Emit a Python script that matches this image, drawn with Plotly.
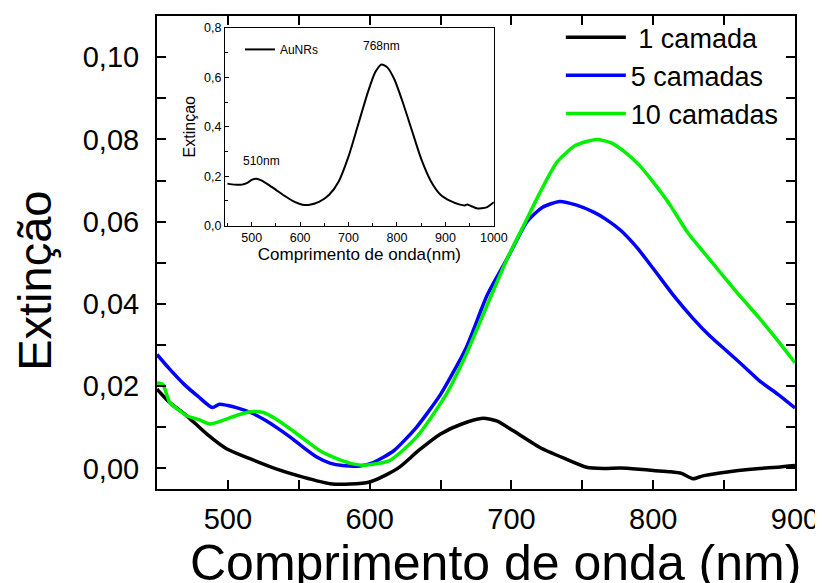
import plotly.graph_objects as go

# 1 camada
x_1 = [450, 459, 471, 485, 499, 516, 534, 553, 572, 586, 600, 612, 621, 635, 650, 665, 680, 690, 701, 720,
       737, 753, 765, 777, 790, 800, 812, 820, 828, 835, 847, 860, 875, 888, 900]
y_1 = [0.0193, 0.016, 0.0128, 0.0084, 0.0048, 0.0023, -0.0001, -0.0021, -0.0037, -0.0038, -0.0033, -0.0015,
       0.0003, 0.0045, 0.0084, 0.0108, 0.0122, 0.0115, 0.0092, 0.0051, 0.0025, 0.0003, 0.0, 0.0001, -0.0002,
       -0.0005, -0.0008, -0.0012, -0.0025, -0.0018, -0.0011, -0.0005, 0.0, 0.0003, 0.0007]

# 5 camadas
x_5 = [450, 458, 469, 479, 489, 494, 500, 506, 516, 527, 535, 544, 553, 563, 572, 581, 593, 603, 617, 633,
       650, 668, 683, 697, 711, 722, 734, 746, 758, 767, 777, 789, 800, 814, 828, 840, 852, 864, 875, 888, 900]
y_5 = [0.0277, 0.0245, 0.0205, 0.0175, 0.0148, 0.0156, 0.0153, 0.0148, 0.0136, 0.0116, 0.0098, 0.0076,
       0.0052, 0.0027, 0.0013, 0.0007, 0.0006, 0.0015, 0.0043, 0.010, 0.018, 0.0293, 0.0422, 0.051, 0.060,
       0.0635, 0.0649, 0.0640, 0.0623, 0.0605, 0.0579, 0.0535, 0.0486, 0.0422, 0.0365, 0.0322, 0.0285,
       0.0248, 0.0213, 0.0180, 0.0147]

# 10 camadas
x_10 = [450, 454, 459, 465, 471, 480, 487, 493, 499, 507, 516, 525, 535, 544, 555, 565, 576, 586, 596, 614,
        633, 654, 668, 683, 697, 710, 720, 732, 745, 760, 770, 779, 790, 800, 812, 824, 835, 847, 861, 875,
        888, 900]
y_10 = [0.0208, 0.0205, 0.016, 0.0143, 0.0128, 0.0118, 0.0108, 0.0113, 0.012, 0.013, 0.0138, 0.0136, 0.0118,
        0.0096, 0.0068, 0.0043, 0.0025, 0.0013, 0.0008, 0.0019, 0.0076, 0.018, 0.0277, 0.0398, 0.051, 0.060,
        0.067, 0.0744, 0.0785, 0.080, 0.0792, 0.0772, 0.0738, 0.0696, 0.064, 0.0575, 0.0528, 0.0478, 0.042,
        0.0365, 0.031, 0.0257]

# inset: AuNRs
x_au = [450, 465, 480, 490, 500, 510, 520, 535, 550, 570, 590, 605, 620, 640, 660, 680, 700, 720, 740, 755,
        768, 780, 795, 810, 830, 850, 870, 890, 910, 930, 940, 945, 952, 965, 975, 985, 1000]
y_au = [0.17, 0.166, 0.166, 0.172, 0.185, 0.19, 0.183, 0.165, 0.145, 0.118, 0.095, 0.085, 0.085, 0.097,
        0.125, 0.18, 0.28, 0.41, 0.54, 0.62, 0.652, 0.64, 0.59, 0.51, 0.39, 0.27, 0.18, 0.125, 0.1, 0.085,
        0.082, 0.086, 0.08, 0.07, 0.07, 0.074, 0.095]

FONT = 'Arial, "Liberation Sans", sans-serif'

fig = go.Figure()

fig.add_trace(go.Scatter(x=x_1, y=y_1, mode='lines', name=' 1 camada',
                         line=dict(color='black', width=3.5, shape='spline', smoothing=0.6)))
fig.add_trace(go.Scatter(x=x_5, y=y_5, mode='lines', name='5 camadas',
                         line=dict(color='#0000ff', width=3.5, shape='spline', smoothing=0.6)))
fig.add_trace(go.Scatter(x=x_10, y=y_10, mode='lines', name='10 camadas',
                         line=dict(color='#00f000', width=3.5, shape='spline', smoothing=0.6)))

fig.add_trace(go.Scatter(x=x_au, y=y_au, mode='lines', name='AuNRs', xaxis='x2', yaxis='y2',
                         legend='legend2', line=dict(color='black', width=2, shape='spline', smoothing=0.6)))

axis_common = dict(showline=True, linecolor='black', linewidth=2, mirror='allticks', ticks='inside',
                   ticklen=9, tickwidth=1.5, tickcolor='black', showgrid=False, zeroline=False,
                   automargin=False)
inset_common = dict(showline=True, linecolor='black', linewidth=1, mirror=True, ticks='inside',
                    ticklen=4, tickcolor='black', showgrid=False, zeroline=False, automargin=False)

# page body keeps its 8px default margin, so the figure is 8px smaller than the window
fig.update_layout(
    width=815, height=575,
    margin=dict(l=149, r=28, t=5, b=94),
    paper_bgcolor='white', plot_bgcolor='white',
    separators=',.',
    font=dict(family=FONT, color='black'),
    xaxis=dict(range=[450, 900], tickvals=[500, 600, 700, 800, 900], tickfont=dict(size=29),
               minor=dict(dtick=50, ticks='inside', ticklen=9, tickcolor='black'),
               ticklabelstandoff=3, **axis_common),
    yaxis=dict(range=[-0.005, 0.11], tickvals=[0, 0.02, 0.04, 0.06, 0.08, 0.10], tickformat='.2f',
               tickfont=dict(size=29),
               minor=dict(dtick=0.01, ticks='inside', ticklen=9, tickcolor='black'),
               ticklabelstandoff=10, **axis_common),
    xaxis2=dict(domain=[0.1066, 0.528], anchor='y2', range=[445, 1000],
                tickvals=[500, 600, 700, 800, 900, 1000], tickfont=dict(size=12.5),
                minor=dict(dtick=50, ticks='inside', ticklen=3, tickcolor='black'),
                title=dict(text='Comprimento de onda(nm)', font=dict(size=17), standoff=2),
                **inset_common),
    yaxis2=dict(domain=[0.5567, 0.975], anchor='x2', range=[0, 0.8],
                tickvals=[0, 0.2, 0.4, 0.6, 0.8], tickformat='.1f', tickfont=dict(size=12.5),
                minor=dict(dtick=0.1, ticks='inside', ticklen=3, tickcolor='black'),
                title=dict(text='Extinçao', font=dict(size=16), standoff=4),
                **inset_common),
    legend=dict(x=0.633, y=1.006, xanchor='left', yanchor='top', bgcolor='rgba(0,0,0,0)',
                font=dict(size=27), itemwidth=60, tracegroupgap=0),
    legend2=dict(x=0.13, y=0.96, xanchor='left', yanchor='top', bgcolor='rgba(0,0,0,0)',
                 font=dict(size=12)),
    annotations=[
        dict(x=0.53, y=-0.156, xref='paper', yref='paper', text='Comprimento de onda (nm)',
             showarrow=False, font=dict(size=50), xanchor='center', yanchor='middle'),
        dict(x=-0.192, y=0.439, xref='paper', yref='paper', text='Extinção', textangle=-90,
             showarrow=False, font=dict(size=47), xanchor='center', yanchor='middle'),
        dict(x=768, y=0.725, xref='x2', yref='y2', text='768nm', showarrow=False, font=dict(size=12)),
        dict(x=521, y=0.262, xref='x2', yref='y2', text='510nm', showarrow=False, font=dict(size=12)),
    ],
)

fig.write_html("out.html")
